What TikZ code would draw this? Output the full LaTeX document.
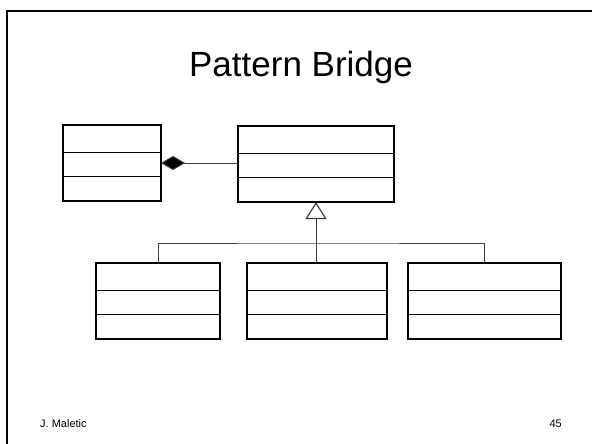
\documentclass[tikz,border=0pt]{standalone}
\usepackage{fontspec}
\setmainfont{Liberation Sans}
\usetikzlibrary{arrows.meta,calc}
\begin{document}
\begin{tikzpicture}[x=1pt,y=-1pt,
  cls/.style={draw=black,line width=1.1pt,rectangle,minimum height=76pt,inner sep=0pt,outer sep=0pt},
  conn/.style={draw=black!75,line width=0.8pt},
  frameline/.style={line width=2.2pt,draw=black}]
\useasboundingbox (0,0) rectangle (592,444);
\fill[white] (0,0) rectangle (592,444);
\draw[frameline] (7,444) -- (7,11) -- (592,11);
\node[font=\fontsize{35}{40}\selectfont,anchor=base] (title) at (301,77) {Pattern Bridge};
\node[font=\fontsize{11}{13}\selectfont,anchor=base west,inner sep=0pt] (author) at (40,427) {J. Maletic};
\node[font=\fontsize{11}{13}\selectfont,anchor=base east,inner sep=0pt] (page) at (562,427) {45};
% classes
\node[cls,minimum width=98pt] (A) at (112,163) {};
\node[cls,minimum width=156pt] (B) at (316,164) {};
\node[cls,minimum width=124pt] (C1) at (158,301) {};
\node[cls,minimum width=140pt] (C2) at (317,301) {};
\node[cls,minimum width=153pt] (C3) at (484.5,301) {};
\foreach \n in {A,B,C1,C2,C3}{
  \draw[line width=1.1pt] ($(\n.north west)!0.36!(\n.south west)$) -- ($(\n.north east)!0.36!(\n.south east)$);
  \draw[line width=1.1pt] ($(\n.north west)!0.68!(\n.south west)$) -- ($(\n.north east)!0.68!(\n.south east)$);
}
% composition
\draw[conn,{Diamond[length=24pt,width=14pt,fill=black,line width=0.8pt]}-] (A.east) -- (A.east -| B.west);
% generalization
\coordinate (bar) at (316,243);
\draw[conn] (C1.north) |- (bar) -| (C3.north);
\draw[conn,-{Triangle[open,length=17pt,width=21pt,line width=1.2pt]}] (C2.north -| B.south) -- (B.south);
\end{tikzpicture}
\end{document}
